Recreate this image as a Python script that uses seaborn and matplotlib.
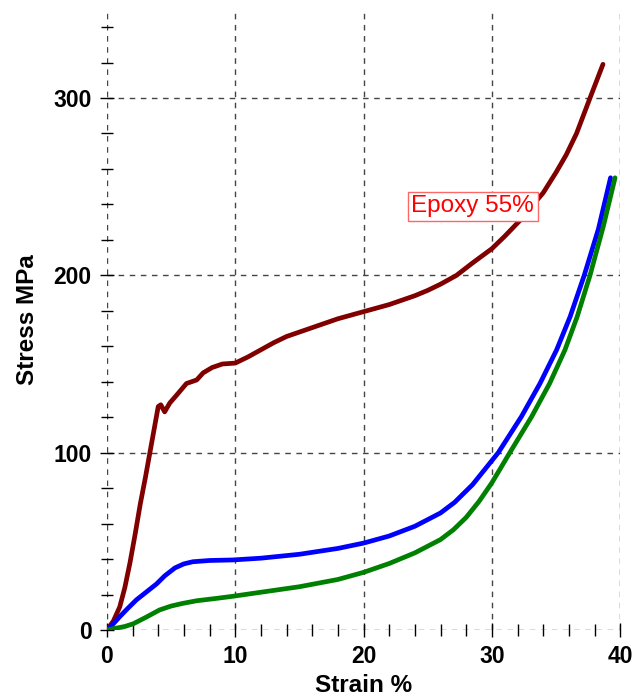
import pandas as pd
import numpy as np
import matplotlib
matplotlib.use('Agg')
import matplotlib.pyplot as plt
from matplotlib.ticker import MultipleLocator
import seaborn as sns

# stress-strain curves
red_strain = [0, 0.5, 1, 1.4, 1.8, 2.2, 2.6, 3, 3.35, 3.7, 4.0, 4.2, 4.5, 4.9, 5.5, 6.2, 7, 7.5, 8.2, 9, 10,
              11, 12, 13, 14, 15, 16, 17, 18, 19, 20, 21, 22, 23, 24, 25, 26, 27.25, 28.5, 30, 31, 32.2, 33,
              34, 35, 35.8, 36.6, 37.65, 38.66]
red_stress = [0, 5, 13, 24, 38, 54, 71, 86, 100, 114, 126, 127, 123, 128, 133, 139, 141, 145, 148, 150, 150.5,
              154, 158, 162, 165.5, 168, 170.5, 173, 175.5, 177.5, 179.5, 181.5, 183.5, 186, 188.5, 191.5, 195, 200, 207, 215, 222, 231, 238,
              246.5, 258, 268, 280, 300, 319]

blue_strain = [0, 0.5, 1, 1.6, 2.3, 3, 3.87, 4.5, 5.3, 6, 6.7, 8, 9.8, 12, 15, 18, 20, 22, 24, 26, 27.1, 28.5,
               30.5, 32.3, 33.75, 35.05, 36.1, 37.2, 38.3, 39.25]
blue_stress = [0, 3.5, 7.5, 12, 17, 21, 26, 30.5, 35, 37.3, 38.5, 39.2, 39.5, 40.5, 42.7, 46, 49, 53, 58.5, 66, 72, 82,
               100, 120.3, 139, 158, 176.7, 200, 226, 255]

green_strain = [0, 0.7, 1.4, 2.05, 3, 4.1, 5, 5.9, 7, 8.5, 9.8, 12, 15, 18, 20, 22, 24, 26, 27, 28, 29, 30,
                31.4, 33.1, 34.5, 35.7, 36.65, 37.65, 38.7, 39.6]
green_stress = [0, 1, 2, 3.5, 7, 11.3, 13.5, 15, 16.5, 17.8, 19, 21.3, 24.4, 28.5, 32.5, 37.5, 43.5, 51, 56.5, 63.5, 72.5, 83,
                100, 120.3, 139, 158, 176.7, 200, 228, 255]

sns.set_style("white")
plt.rcParams['font.family'] = ['Liberation Sans', 'DejaVu Sans']
plt.rcParams['text.color'] = 'black'
plt.rcParams['axes.labelcolor'] = 'black'
plt.rcParams['xtick.color'] = 'black'
plt.rcParams['ytick.color'] = 'black'

fig = plt.figure(figsize=(6.44, 6.99), dpi=100)
ax = fig.add_axes([0.166, 0.0987, 0.797, 0.888])

for xs, ys, c in [(red_strain, red_stress, '#800000'),
                  (blue_strain, blue_stress, '#0000ff'),
                  (green_strain, green_stress, '#008000')]:
    sns.lineplot(x=xs, y=ys, color=c, linewidth=3.4, sort=False, ax=ax,
                 solid_capstyle='round', solid_joinstyle='round')

ax.set_xlim(0, 40)
ax.set_ylim(0, 350)
ax.xaxis.set_major_locator(MultipleLocator(10))
ax.xaxis.set_minor_locator(MultipleLocator(2))
ax.yaxis.set_major_locator(MultipleLocator(100))
ax.yaxis.set_minor_locator(MultipleLocator(20))
ax.tick_params(which='major', direction='inout', length=10, width=1, colors='black',
               labelsize=16.5, bottom=True, left=True, pad=6)
ax.tick_params(which='minor', direction='inout', length=8, width=1, colors='black',
               bottom=True, left=True)
for lbl in ax.get_xticklabels() + ax.get_yticklabels():
    lbl.set_fontweight('bold')

for s in ax.spines.values():
    s.set_visible(False)
ax.grid(True, which='major', linestyle=(0, (4, 4)), color='#444444', linewidth=1)
ax.set_axisbelow(True)

ax.set_xlabel('Strain %', fontsize=17.5, fontweight='bold', labelpad=4)
ax.set_ylabel('Stress MPa', fontsize=17.5, fontweight='bold', labelpad=10)

ax.text(28.5, 239, 'Epoxy 55%', color='red', fontsize=17.5, ha='center', va='center',
        bbox=dict(boxstyle='square,pad=0.15', facecolor='white', edgecolor='#ff6666', linewidth=1))

fig.savefig('out.png', dpi=100)
